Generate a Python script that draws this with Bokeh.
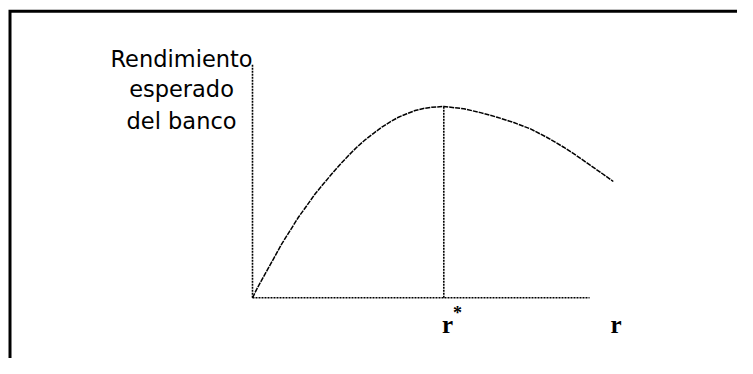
from bokeh.plotting import figure
from bokeh.models import Range1d
from bokeh.core.properties import value
from bokeh.embed import file_html
from bokeh.resources import INLINE

# --- data (r in units of r*, expected return in units of its maximum) ---
r_values = [0.0, 0.023, 0.066, 0.110, 0.153, 0.197, 0.240, 0.284, 0.328, 0.371,
            0.415, 0.458, 0.502, 0.545, 0.589, 0.633, 0.676, 0.720, 0.763, 0.807,
            0.850, 0.894, 0.937, 1.0, 1.105, 1.192, 1.279, 1.366, 1.453, 1.540,
            1.627, 1.697, 1.767, 1.826, 1.886]
rendimiento = [0.0, 0.047, 0.125, 0.204, 0.282, 0.352, 0.421, 0.482, 0.544, 0.596,
               0.648, 0.697, 0.744, 0.787, 0.826, 0.860, 0.892, 0.920, 0.944, 0.962,
               0.979, 0.990, 0.996, 1.0, 0.988, 0.968, 0.944, 0.916, 0.883, 0.838,
               0.787, 0.741, 0.692, 0.651, 0.608]
r_star = 1.0
y_star = 1.0
x_axis_end = 1.762
y_axis_end = 1.22
y_label_lines = ["Rendimiento", "esperado", "del banco"]
y_label_x = [-0.371, -0.371, -0.371]
y_label_y = [1.2457, 1.0889, 0.9268]
x_labels = ["r", "r"]
x_label_x = [1.019, 1.900]
x_label_y = [-0.1396, -0.1396]
# picture frame: left/top edges (the right/bottom edges lie outside the view)
frame_x = [-1.2676, -1.2676, 3.0]
frame_y = [-0.6, 1.4982, 1.4982]

p = figure(width=737, height=358, output_backend="svg", toolbar_location=None,
           x_range=Range1d(-1.3173, 2.5353), y_range=Range1d(-0.3173, 1.5541),
           min_border=0, min_border_left=0, min_border_right=0,
           min_border_top=0, min_border_bottom=0)
p.axis.visible = False
p.grid.visible = False
p.outline_line_color = None
p.background_fill_color = "white"
p.border_fill_color = "white"

# frame
p.line(frame_x, frame_y, line_color="black", line_width=3, line_join="miter")

dash = "2 1"
# axes
p.line([0, 0], [0, y_axis_end], line_color="black", line_width=1.6, line_dash=dash)
p.line([0, x_axis_end], [0, 0], line_color="black", line_width=1.6, line_dash=dash)
# r* drop line
p.line([r_star, r_star], [0, y_star], line_color="black", line_width=1.6, line_dash=dash)
# curve
p.line(r_values, rendimiento, line_color="black", line_width=1.5, line_dash="5 1")

# labels
p.text(x=y_label_x, y=y_label_y, text=y_label_lines, text_font=value("DejaVu Sans"),
       text_font_size="22.5px", text_align="center", text_baseline="middle",
       text_color="black")
p.text(x=x_label_x, y=x_label_y, text=x_labels, text_font=value("Liberation Serif"),
       text_font_style="bold", text_font_size="25px", text_align="center",
       text_baseline="middle", text_color="black")
p.text(x=[x_label_x[0]], y=[x_label_y[0]], text=["*"], text_font=value("Liberation Serif"),
       text_font_style="bold", text_font_size="18px", text_align="center",
       text_baseline="middle", x_offset=10, y_offset=-12, text_color="black")

open("out.html", "w").write(file_html(p, INLINE))
